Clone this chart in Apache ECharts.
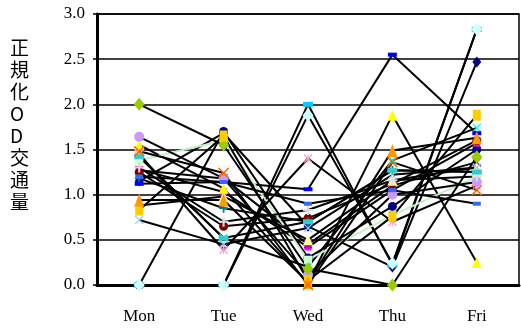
<!DOCTYPE html>
<html>
<head>
<meta charset="utf-8">
<script src="https://cdn.jsdelivr.net/npm/echarts@6/dist/echarts.min.js"></script>
<style>
  html, body { margin: 0; padding: 0; background: #fff; }
  #chart { width: 521px; height: 332px; }
</style>
</head>
<body>
<div id="chart"></div>
<script>
const days = ["Mon", "Tue", "Wed", "Thu", "Fri"];
const yTicks = [0, 0.5, 1.0, 1.5, 2.0, 2.5, 3.0];
const yTitle = "正規化OD交通量";

// one row per OD pair: [Mon, Tue, Wed, Thu, Fri]
const s00 = [0.00, 1.70, 0.30, 0.87, 1.50];
const s01 = [1.15, 1.68, 0.65, 0.20, 2.47];
const s02 = [1.28, 1.03, 0.42, 1.05, 1.57];
const s03 = [1.55, 1.07, 0.02, 1.88, 0.25];
const s04 = [1.42, 0.52, 0.20, 1.38, 1.74];
const s05 = [1.27, 1.18, 0.45, 1.10, 1.36];
const s06 = [1.25, 0.65, 0.74, 1.12, 1.60];
const s07 = [1.18, 0.85, 0.70, 1.27, 1.25];
const s08 = [1.12, 1.14, 1.06, 2.55, 1.68];
const s09 = [0.00, 0.00, 2.00, 0.22, 2.83];
const s10 = [0.00, 0.00, 1.88, 0.24, 2.83];
const s11 = [1.38, 1.60, 0.28, 0.77, 1.20];
const s12 = [0.88, 0.98, 0.50, 1.16, 1.30];
const s13 = [0.72, 0.45, 0.63, 1.22, 1.30];
const s14 = [1.45, 0.39, 1.40, 0.70, 1.10];
const s15 = [1.64, 1.18, 0.11, 1.00, 1.14];
const s16 = [1.30, 0.70, 0.83, 1.16, 1.20];
const s17 = [1.20, 1.14, 0.90, 1.05, 0.90];
const s18 = [1.42, 0.52, 0.70, 1.27, 1.25];
const s19 = [2.00, 1.55, 0.18, 0.00, 1.42];
const s20 = [0.83, 1.65, 0.05, 0.76, 1.88];
const s21 = [0.94, 0.94, 0.03, 1.49, 1.63];
const s22 = [1.48, 1.24, 0.00, 1.36, 1.05];

const X = "path://M0,1L1,0L5,4L9,0L10,1L6,5L10,9L9,10L5,6L1,10L0,9L4,5Z";
const PLUS = "path://M4,0H6V4H10V6H6V10H4V6H0V4H4Z";
const STAR = "path://M0,1L1,0L4.5,3.5V0H5.5V3.5L9,0L10,1L6,5L10,9L9,10L5.5,6.5V10H4.5V6.5L1,10L0,9L4,5Z";

const rows = [
  { data: s00, color: "#000080", symbol: "circle", size: 9 },
  { data: s01, color: "#000080", symbol: "diamond", size: [9, 11] },
  { data: s02, color: "#FF00FF", symbol: "rect", size: 7 },
  { data: s03, color: "#FFFF00", symbol: "triangle", size: [10, 11] },
  { data: s04, color: "#00FFFF", symbol: X, size: 9 },
  { data: s05, color: "#800080", symbol: STAR, size: 9 },
  { data: s06, color: "#800000", symbol: "circle", size: 9 },
  { data: s07, color: "#008080", symbol: PLUS, size: 9 },
  { data: s08, color: "#0000FF", symbol: "rect", size: [9, 4] },
  { data: s09, color: "#00CCFF", symbol: "rect", size: [10, 5] },
  { data: s10, color: "#CCFFFF", symbol: "diamond", size: [11, 13] },
  { data: s11, color: "#CCFFCC", symbol: "rect", size: 8, line: "#C4F0C4" },
  { data: s12, color: "#FFFF99", symbol: "triangle", size: [10, 11] },
  { data: s13, color: "#99CCFF", symbol: X, size: 9 },
  { data: s14, color: "#FF99CC", symbol: STAR, size: 9 },
  { data: s15, color: "#CC99FF", symbol: "circle", size: 10 },
  { data: s16, color: "#DDDDDD", symbol: PLUS, size: 10 },
  { data: s17, color: "#3366FF", symbol: "rect", size: [8, 4] },
  { data: s18, color: "#33CCCC", symbol: "rect", size: [10, 5] },
  { data: s19, color: "#99CC00", symbol: "diamond", size: [11, 13] },
  { data: s20, color: "#FFCC00", symbol: "rect", size: [8, 11] },
  { data: s21, color: "#FF9900", symbol: "triangle", size: [10, 13] },
  { data: s22, color: "#FF6600", symbol: X, size: 11 },
];

const serif = "'Liberation Serif', 'DejaVu Serif', serif";

const chart = echarts.init(document.getElementById("chart"));
chart.setOption({
  animation: false,
  backgroundColor: "#fff",
  grid: {
    left: 97, right: 2, top: 14, bottom: 47,
    show: true, borderColor: "#000", borderWidth: 1.5, backgroundColor: "transparent",
  },
  graphic: [{
    type: "text",
    left: 10,
    top: 37,
    style: {
      text: yTitle.split("").join("\n"),
      fontFamily: "'Noto Sans CJK JP', sans-serif",
      fontSize: 19,
      lineHeight: 22,
      align: "center",
      fill: "#000",
    },
  }],
  xAxis: {
    type: "category",
    data: days,
    boundaryGap: true,
    axisLine: { lineStyle: { color: "#000", width: 3 } },
    axisTick: { inside: true, length: 5, lineStyle: { color: "#000", width: 1.5 } },
    axisLabel: { color: "#000", fontFamily: serif, fontSize: 17, margin: 23 },
  },
  yAxis: {
    type: "value",
    min: 0,
    max: 3,
    interval: 0.5,
    axisLine: { show: true, lineStyle: { color: "#000", width: 3 } },
    axisTick: { show: true, length: 4, lineStyle: { color: "#000", width: 1.5 } },
    splitLine: { lineStyle: { color: "#000", width: 1.5 } },
    axisLabel: {
      color: "#000", fontFamily: serif, fontSize: 17, margin: 12,
      formatter: (v) => yTicks.includes(v) ? v.toFixed(1) : "",
    },
  },
  series: rows.map((r) => ({
    type: "line",
    data: r.data,
    symbol: r.symbol,
    symbolSize: r.size,
    showAllSymbol: true,
    lineStyle: { color: r.line || "#000", width: 2 },
    itemStyle: { color: r.color, borderWidth: 0 },
    emphasis: { disabled: true },
  })),
});
</script>
</body>
</html>
